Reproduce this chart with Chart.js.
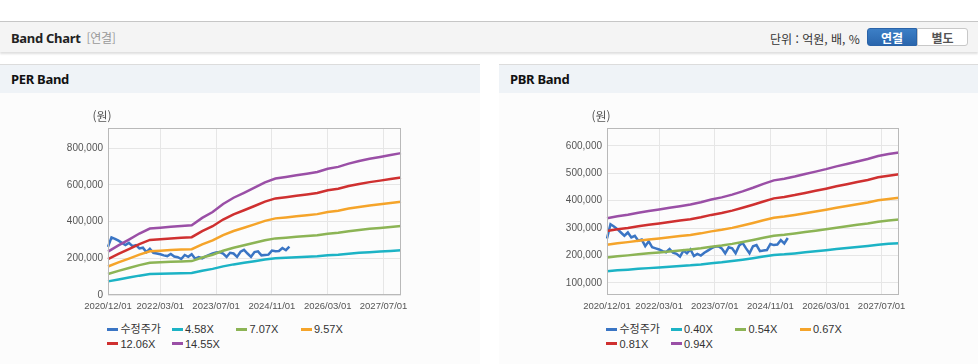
<!DOCTYPE html>
<html lang="ko">
<head>
<meta charset="utf-8">
<title>Band Chart</title>
<script src="https://cdn.jsdelivr.net/npm/chart.js@4.4.1/dist/chart.umd.min.js"></script>
<style>
  body { margin:0; width:978px; height:364px; position:relative; overflow:hidden; background:#fff;
         font-family:'Liberation Sans','Noto Sans CJK KR',sans-serif; }
  .topbar { position:absolute; left:0; top:21px; width:978px; height:30px; background:#f4f4f4;
            border-top:1px solid #c6c6c6; box-shadow:0 2px 2px rgba(0,0,0,0.13); }
  .topbar .title { position:absolute; left:11px; top:7px; font-size:13px; font-weight:bold; color:#222;
                   font-family:'Noto Sans','Noto Sans CJK KR',sans-serif; letter-spacing:-0.3px; }
  .topbar .title em { font-style:normal; font-weight:normal; color:#999; font-size:12px; margin-left:6px;
                      font-family:'Noto Sans CJK KR',sans-serif; }
  .unit { position:absolute; left:770px; top:8px; font-size:12px; color:#333; font-family:'Noto Sans CJK KR',sans-serif; }
  .btn { position:absolute; top:6px; width:50px; height:18px; line-height:18px; text-align:center; font-size:12px;
         font-weight:bold; font-family:'Noto Sans CJK KR',sans-serif; box-sizing:border-box; }
  .btn.on { left:867px; background:linear-gradient(#3c7fc6,#2a66ad); color:#fff; border:1px solid #2a63a8; border-radius:3px 0 0 3px; }
  .btn.off { left:917px; background:#fff; color:#555; border:1px solid #c8c8c8; border-radius:0 3px 3px 0; width:51px; }
  .panel { position:absolute; top:64px; width:480px; height:300px; background:#fcfcfc; }
  .panel .head { height:28px; background:#eff3f7; border-top:1px solid #dcdcdc; font-size:13px; font-weight:bold;
                 color:#111; line-height:28px; padding-left:11px; font-family:'Noto Sans',sans-serif; letter-spacing:-0.3px; }
  canvas { position:absolute; top:100px; }
  .legend { position:absolute; top:322px; display:grid; grid-template-columns:repeat(4, 64.5px);
            font-size:11px; line-height:14.5px; color:#333; }
  .legend .mark { display:inline-block; width:11px; height:3px; margin-right:2.5px; vertical-align:middle; position:relative; top:-1px; }
</style>
</head>
<body>
<div class="topbar">
  <div class="title">Band Chart<em>[연결]</em></div>
  <div class="unit">단위 : 억원, 배, %</div>
  <div class="btn on">연결</div>
  <div class="btn off">별도</div>
</div>
<div class="panel" style="left:0"><div class="head">PER Band</div></div>
<div class="panel" style="left:499px; width:479px"><div class="head">PBR Band</div></div>
<canvas id="perChart" width="480" height="220" style="left:0"></canvas>
<canvas id="pbrChart" width="479" height="220" style="left:499px"></canvas>
<div class="legend" id="perLegend" style="left:107px"></div>
<div class="legend" id="pbrLegend" style="left:606px"></div>
<script>
'use strict';

// 월별 카테고리 2020/12/01 ~ 2027/12/01
const monthLabels = [];
for (let y = 2020, m = 12; y < 2028; ) {
    monthLabels.push(`${y}/${String(m).padStart(2, '0')}/01`);
    if (y === 2027 && m === 12) break;
    m++;
    if (m > 12) { m = 1; y++; }
}
const xTickLabels = ['2020/12/01', '2022/03/01', '2023/07/01', '2024/11/01', '2026/03/01', '2027/07/01'];
const perYTicks = [0, 200000, 400000, 600000, 800000];
const pbrYTicks = [100000, 200000, 300000, 400000, 500000, 600000];

// 밴드는 분기 단위, 주가는 월 단위
const bandDates = monthLabels.filter((_, i) => i % 3 === 0);
const priceDates = monthLabels.slice(0, 53);

const priceValues = [262000, 314000, 306000, 296000, 284000, 272000, 284000, 266000, 272000, 254000,
    258000, 234000, 252000, 230000, 226000, 222000, 216000, 212000, 224000, 210000,
    206000, 196000, 218000, 208000, 222000, 198000, 206000, 200000, 210000, 218000,
    226000, 232000, 234000, 226000, 208000, 230000, 226000, 208000, 236000, 246000,
    226000, 208000, 234000, 238000, 216000, 218000, 220000, 242000, 238000, 240000,
    256000, 244000, 264000];

/* PER 밴드 */
const perNames = ['수정주가', '4.58X', '7.07X', '9.57X', '12.06X', '14.55X'];
const per458 = [74300, 85000, 95100, 105500, 114000, 115500, 117100, 118400, 119600, 132200,
    142300, 156100, 166800, 175300, 184200, 193300, 199900, 202400, 205200, 208100,
    210900, 216600, 219700, 225400, 229800, 233600, 236700, 240200, 243300];
const per707 = [114700, 131200, 146700, 162800, 175900, 178300, 180800, 182700, 184600, 204100,
    219600, 241000, 257500, 270600, 284300, 298300, 308500, 312400, 316800, 321200,
    325600, 334300, 339200, 347900, 354700, 360500, 365400, 370700, 375600];
const per957 = [155200, 177600, 198600, 220300, 238100, 241400, 244700, 247300, 249900, 276200,
    297300, 326200, 348600, 366300, 384800, 403800, 417600, 422900, 428800, 434700,
    440700, 452500, 459100, 470900, 480100, 488000, 494600, 501800, 508400];
const per1206 = [195600, 223800, 250300, 277700, 300100, 304200, 308400, 311700, 315000, 348100,
    374700, 411100, 439300, 461700, 484900, 508900, 526400, 533000, 540400, 547900,
    555400, 570300, 578600, 593500, 605100, 615000, 623300, 632500, 640700];
const per1455 = [236000, 270000, 302000, 335000, 362000, 367000, 372000, 376000, 380000, 420000,
    452000, 496000, 530000, 557000, 585000, 614000, 635000, 643000, 652000, 661000,
    670000, 688000, 698000, 716000, 730000, 742000, 752000, 763000, 773000];

/* PBR 밴드 */
const pbrNames = ['수정주가', '0.40X', '0.54X', '0.67X', '0.81X', '0.94X'];
const pbr040 = [143000, 145900, 148500, 151500, 154000, 156600, 159100, 161700, 164200, 167600,
    171900, 175300, 179600, 184700, 190200, 196200, 201700, 204200, 207600, 211500,
    215300, 219100, 223400, 227200, 231000, 234900, 239600, 242500, 245100];
const pbr054 = [193000, 197100, 200500, 204500, 208000, 211400, 214900, 218300, 221800, 226400,
    232100, 236700, 242400, 249300, 256800, 264800, 272300, 275800, 280400, 285500,
    290700, 295900, 301600, 306800, 312000, 317100, 323400, 327500, 330900];
const pbr067 = [239500, 244500, 248800, 253800, 258000, 262300, 266600, 270900, 275100, 280800,
    288000, 293700, 300800, 309400, 318600, 328600, 337900, 342100, 347800, 354300,
    360700, 367100, 374200, 380600, 387000, 393500, 401300, 406300, 410600];
const pbr081 = [289500, 295600, 300700, 306800, 311900, 317100, 322300, 327400, 332600, 339500,
    348100, 355000, 363600, 374000, 385200, 397200, 408400, 413600, 420500, 428300,
    436000, 443800, 452400, 460100, 467900, 475700, 485100, 491200, 496300];
const pbr094 = [336000, 343000, 349000, 356000, 362000, 368000, 374000, 380000, 386000, 394000,
    404000, 412000, 422000, 434000, 447000, 461000, 474000, 480000, 488000, 497000,
    506000, 515000, 525000, 534000, 543000, 552000, 563000, 570000, 576000];

const COLORS = ['#3a75c4', '#1cb3c5', '#8cb455', '#f5a42a', '#cf3030', '#9a4fa6'];

/* 차트 영역 테두리 + (원) 표시 */
const boxPlugin = {
    id: 'boxPlugin',
    afterDraw(chart) {
        const { ctx, chartArea } = chart;
        ctx.save();
        ctx.strokeStyle = '#b9b9b9';
        ctx.lineWidth = 1;
        ctx.strokeRect(Math.round(chartArea.left) + 0.5, Math.round(chartArea.top) + 0.5,
            Math.round(chartArea.width) - 1, Math.round(chartArea.height) - 1);
        ctx.fillStyle = '#555';
        ctx.font = "12px 'Noto Sans CJK KR', sans-serif";
        ctx.textAlign = 'center';
        ctx.textBaseline = 'middle';
        ctx.fillText('(원)', chartArea.left - 6, chartArea.top - 12);
        ctx.restore();
    }
};

function toPoints(dates, values) {
    return values.map((v, i) => ({ x: dates[i], y: v }));
}

function makeBandChart(canvasId, names, bands, yMin, yMax, yTicks) {
    // 주가선은 밴드선 아래에 그린다 (order 값이 클수록 먼저 그려짐)
    const datasets = [{
        label: names[0],
        data: toPoints(priceDates, priceValues),
        borderColor: COLORS[0],
        order: 1
    }];
    bands.forEach((band, i) => {
        datasets.push({
            label: names[i + 1],
            data: toPoints(bandDates, band),
            borderColor: COLORS[i + 1],
            order: 0
        });
    });
    datasets.forEach(ds => {
        ds.borderWidth = 2.5;
        ds.pointRadius = 0;
        ds.fill = false;
        ds.tension = 0;
    });

    return new Chart(document.getElementById(canvasId), {
        type: 'line',
        data: { labels: monthLabels, datasets: datasets },
        options: {
            responsive: false,
            animation: false,
            layout: { padding: { left: 8, right: 79, top: 28, bottom: 0 } },
            plugins: { legend: { display: false }, tooltip: { enabled: false } },
            scales: {
                x: {
                    type: 'category',
                    offset: false,
                    border: { display: false },
                    grid: { color: '#e6e6e6', drawTicks: false },
                    ticks: {
                        autoSkip: false,
                        maxRotation: 0,
                        padding: 6,
                        color: '#555',
                        font: { family: "'Liberation Sans', sans-serif", size: 9.5 },
                        callback: function(value) {
                            const label = this.getLabelForValue(value);
                            return xTickLabels.includes(label) ? label : null;
                        }
                    },
                    afterFit(scale) { scale.height = 25; }
                },
                y: {
                    min: yMin,
                    max: yMax,
                    border: { display: false },
                    grid: { color: '#e6e6e6', drawTicks: false },
                    afterBuildTicks(scale) { scale.ticks = yTicks.map(v => ({ value: v })); },
                    ticks: {
                        padding: 5,
                        color: '#555',
                        font: { family: "'Liberation Sans', sans-serif", size: 10 },
                        callback: v => v.toLocaleString('en-US')
                    },
                    afterFit(scale) { scale.width = 100; }
                }
            }
        },
        plugins: [boxPlugin]
    });
}

function makeLegend(elId, names) {
    const el = document.getElementById(elId);
    names.forEach((name, i) => {
        const item = document.createElement('div');
        item.innerHTML = `<span class="mark" style="background:${COLORS[i]}"></span>${name}`;
        el.appendChild(item);
    });
}

makeBandChart('perChart', perNames, [per458, per707, per957, per1206, per1455], 0, 910000, perYTicks);
makeBandChart('pbrChart', pbrNames, [pbr040, pbr054, pbr067, pbr081, pbr094], 56000, 665000, pbrYTicks);
makeLegend('perLegend', perNames);
makeLegend('pbrLegend', pbrNames);
</script>
</body>
</html>
